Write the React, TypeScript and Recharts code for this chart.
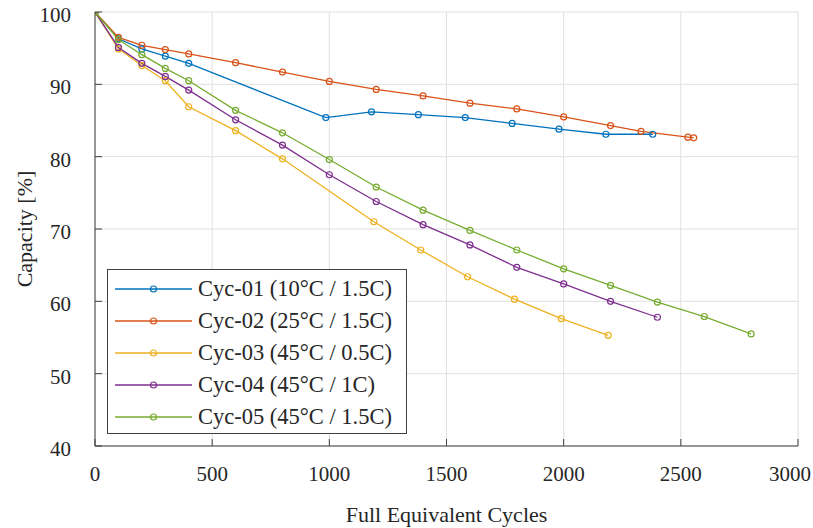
import React from "react";
import {
	CartesianGrid,
	Legend,
	Line,
	LineChart,
	XAxis,
	YAxis,
} from "recharts";

// cycles (x) and remaining capacity in % (y)
const cyc01X = [0, 100, 200, 300, 400, 985, 1180, 1380, 1580, 1780, 1980, 2180, 2380];
const cyc01Y = [100, 96.3, 94.9, 93.9, 92.9, 85.4, 86.2, 85.8, 85.4, 84.6, 83.8, 83.1, 83.1];

const cyc02X = [0, 100, 200, 300, 400, 600, 800, 1000, 1200, 1400, 1600, 1800, 2000, 2200, 2330, 2530, 2555];
const cyc02Y = [100, 96.5, 95.4, 94.8, 94.2, 93.0, 91.7, 90.4, 89.3, 88.4, 87.4, 86.6, 85.5, 84.3, 83.5, 82.7, 82.6];

const cyc03X = [0, 100, 200, 300, 400, 600, 800, 1190, 1390, 1590, 1790, 1990, 2190];
const cyc03Y = [100, 94.9, 92.6, 90.5, 86.9, 83.6, 79.7, 71.0, 67.1, 63.4, 60.3, 57.6, 55.3];

const cyc04X = [0, 100, 200, 300, 400, 600, 800, 1000, 1200, 1400, 1600, 1800, 2000, 2200, 2400];
const cyc04Y = [100, 95.1, 92.9, 91.1, 89.2, 85.1, 81.6, 77.5, 73.8, 70.6, 67.8, 64.7, 62.4, 60.0, 57.8];

const cyc05X = [0, 100, 200, 300, 400, 600, 800, 1000, 1200, 1400, 1600, 1800, 2000, 2200, 2400, 2600, 2800];
const cyc05Y = [100, 96.2, 94.1, 92.2, 90.5, 86.4, 83.3, 79.6, 75.8, 72.6, 69.8, 67.1, 64.5, 62.2, 59.9, 57.9, 55.5];

const seriesNames = [
	"Cyc-01 (10°C / 1.5C)",
	"Cyc-02 (25°C / 1.5C)",
	"Cyc-03 (45°C / 0.5C)",
	"Cyc-04 (45°C / 1C)",
	"Cyc-05 (45°C / 1.5C)",
];
const seriesColors = ["#0072BD", "#D95319", "#EDB120", "#7E2F8E", "#77AC30"];

const xTicks = [0, 500, 1000, 1500, 2000, 2500, 3000];
const yTicks = [40, 50, 60, 70, 80, 90, 100];

const toPoints = (xs: number[], ys: number[]) => xs.map((x, i) => ({ x, y: ys[i] }));

const series = [
	toPoints(cyc01X, cyc01Y),
	toPoints(cyc02X, cyc02Y),
	toPoints(cyc03X, cyc03Y),
	toPoints(cyc04X, cyc04Y),
	toPoints(cyc05X, cyc05Y),
];

const FONT = "'Liberation Serif', serif";
const TEXT = "#262626";
const AXIS = "#404040";
const TICK = 7;

const BottomTick = ({ x, y, payload }: any) => {
	// last label would run off the right edge, so pin its right end
	const last = payload.value === xTicks[xTicks.length - 1];
	return (
		<g>
			<line x1={x} x2={x} y1={y} y2={y - TICK} stroke={AXIS} />
			<text
				x={last ? Math.min(x + 20, 811) : x}
				y={y + 35}
				textAnchor={last ? "end" : "middle"}
				fontFamily={FONT}
				fontSize={21}
				fill={TEXT}
			>
				{payload.value}
			</text>
		</g>
	);
};

const TopTick = ({ x, y }: any) => (
	<line x1={x} x2={x} y1={y} y2={y + TICK} stroke={AXIS} />
);

const LeftTick = ({ x, y, payload }: any) => (
	<g>
		<line x1={x} x2={x + TICK} y1={y} y2={y} stroke={AXIS} />
		<text x={x - 24} y={y + 10} textAnchor="end" fontFamily={FONT} fontSize={21} fill={TEXT}>
			{payload.value}
		</text>
	</g>
);

const RightTick = ({ x, y }: any) => (
	<line x1={x} x2={x - TICK} y1={y} y2={y} stroke={AXIS} />
);

const LegendBox = ({ payload }: any) => (
	<div
		style={{
			width: 300,
			height: 165,
			border: `1px solid ${AXIS}`,
			background: "#fff",
			boxSizing: "border-box",
			paddingTop: 3,
		}}
	>
		{(payload || []).map((p: any) => (
			<div key={p.value} style={{ display: "flex", alignItems: "center", height: 32 }}>
				<svg width={90} height={32} style={{ flex: "none" }}>
					<line x1={7} x2={84} y1={16} y2={16} stroke={p.color} strokeWidth={1.3} />
					<circle cx={45.5} cy={16} r={3} fill="none" stroke={p.color} strokeWidth={1.2} />
				</svg>
				<span style={{ fontFamily: FONT, fontSize: 22.5, color: TEXT, whiteSpace: "pre" }}>
					{p.value}
				</span>
			</div>
		))}
	</div>
);

export default function App() {
	return (
		<div style={{ position: "absolute", left: 0, top: 0 }}>
			<LineChart width={813} height={528} margin={{ top: 12, right: 15, bottom: 0, left: 0 }}>
				<CartesianGrid stroke="#e0e0e0" strokeWidth={1} />
				<XAxis
					type="number"
					dataKey="x"
					domain={[0, 3000]}
					ticks={xTicks}
					interval={0}
					allowDataOverflow
					height={82}
					tickSize={0}
					tickMargin={0}
					axisLine={{ stroke: AXIS }}
					tickLine={false}
					tick={<BottomTick />}
					label={{
						content: ({ viewBox }: any) => (
							<text
								x={viewBox.x + viewBox.width / 2}
								y={viewBox.y + 76}
								textAnchor="middle"
								fontFamily={FONT}
								fontSize={22}
								fill={TEXT}
							>
								Full Equivalent Cycles
							</text>
						),
					}}
				/>
				<XAxis
					xAxisId="top"
					orientation="top"
					type="number"
					dataKey="x"
					domain={[0, 3000]}
					ticks={xTicks}
					interval={0}
					allowDataOverflow
					height={0}
					tickSize={0}
					tickMargin={0}
					axisLine={{ stroke: AXIS }}
					tickLine={false}
					tick={<TopTick />}
				/>
				<YAxis
					type="number"
					domain={[40, 100]}
					ticks={yTicks}
					interval={0}
					allowDataOverflow
					width={95}
					tickSize={0}
					tickMargin={0}
					axisLine={{ stroke: AXIS }}
					tickLine={false}
					tick={<LeftTick />}
					label={{
						content: ({ viewBox }: any) => {
							const cx = viewBox.x + 24;
							const cy = viewBox.y + viewBox.height / 2;
							return (
								<text
									x={cx}
									y={cy}
									transform={`rotate(-90 ${cx} ${cy})`}
									textAnchor="middle"
									dominantBaseline="central"
									fontFamily={FONT}
									fontSize={22}
									fill={TEXT}
								>
									Capacity [%]
								</text>
							);
						},
					}}
				/>
				<YAxis
					yAxisId="right"
					orientation="right"
					type="number"
					domain={[40, 100]}
					ticks={yTicks}
					interval={0}
					allowDataOverflow
					width={0}
					tickSize={0}
					tickMargin={0}
					axisLine={{ stroke: AXIS }}
					tickLine={false}
					tick={<RightTick />}
				/>
				<Legend
					layout="vertical"
					align="center"
					verticalAlign="middle"
					wrapperStyle={{ left: 107, top: 269, width: 300, height: 165 }}
					content={<LegendBox />}
				/>
				{series.map((d, i) => (
					<Line
						key={seriesNames[i]}
						data={d}
						dataKey="y"
						name={seriesNames[i]}
						stroke={seriesColors[i]}
						strokeWidth={1.3}
						dot={{ r: 3, fill: "none", stroke: seriesColors[i], strokeWidth: 1.2 }}
						activeDot={false}
						isAnimationActive={false}
					/>
				))}
			</LineChart>
		</div>
	);
}
